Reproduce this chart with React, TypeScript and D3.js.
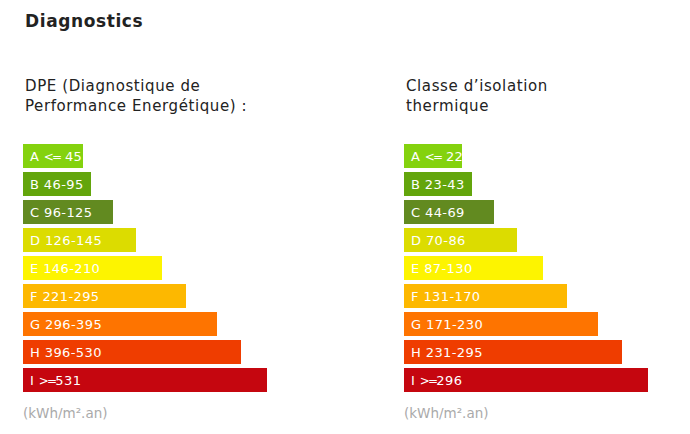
import React from "react";
import * as d3 from "d3";

const classes = ["A", "B", "C", "D", "E", "F", "G", "H", "I"];
const dpeLabels = ["A <= 45", "B 46-95", "C 96-125", "D 126-145", "E 146-210", "F 221-295", "G 296-395", "H 396-530", "I >=531"];
const isoLabels = ["A <= 22", "B 23-43", "C 44-69", "D 70-86", "E 87-130", "F 131-170", "G 171-230", "H 231-295", "I >=296"];
const dpeWidths = [60, 68, 90, 113, 139, 163, 194, 218, 244];
const isoWidths = [58, 68, 90, 113, 139, 163, 194, 218, 244];
const colors = ["#84d20e", "#63a50c", "#628a20", "#dcdc00", "#fdf400", "#fdb800", "#fe7400", "#ef3d00", "#c5060f"];

const FONT = "'DejaVu Sans', sans-serif";

function Label({ text }: { text: string }) {
  const parts = text.split(/(<=|>=)/);
  return (
    <>
      {parts.map((p, i) =>
        p === "<=" || p === ">=" ? (
          <tspan key={i} fontSize={12} letterSpacing={-1.8}>
            {p}
          </tspan>
        ) : (
          <tspan key={i}>{p}</tspan>
        )
      )}
    </>
  );
}

function Panel({ x0, titleLines, labels, widths }: { x0: number; titleLines: string[]; labels: string[]; widths: number[] }) {
  const y = d3.scaleBand<string>().domain(classes).range([144, 392]).paddingInner(1 / 7).paddingOuter(0);
  const xs = d3.scaleLinear().domain([0, 244]).range([0, 244]);
  const bw = y.bandwidth();
  return (
    <g>
      {titleLines.map((t, i) => (
        <text key={i} x={x0 + 2} y={91 + i * 20} fontSize={15} letterSpacing={0.6} fill="#222" fontFamily={FONT}>
          {t}
        </text>
      ))}
      {classes.map((c, i) => {
        const yy = y(c) as number;
        return (
          <g key={c}>
            <rect x={x0} y={yy} width={xs(widths[i])} height={bw} fill={colors[i]} />
            <text x={x0 + 7} y={yy + 17} fontSize={13} letterSpacing={0.4} fill="#fff" fontFamily={FONT}>
              <Label text={labels[i]} />
            </text>
          </g>
        );
      })}
      <text x={x0} y={418} fontSize={13.5} fill="#aaa" fontFamily={FONT}>
        (kWh/m².an)
      </text>
    </g>
  );
}

export default function App() {
  return (
    <svg width={690} height={434} style={{ position: "absolute", left: 0, top: 0, background: "#fff" }}>
      <text x={25} y={27} fontSize={17} fontWeight={700} letterSpacing={0.6} fill="#222" fontFamily={FONT}>
        Diagnostics
      </text>
      <Panel x0={23} titleLines={["DPE (Diagnostique de", "Performance Energétique) :"]} labels={dpeLabels} widths={dpeWidths} />
      <Panel x0={404} titleLines={["Classe d’isolation", "thermique"]} labels={isoLabels} widths={isoWidths} />
    </svg>
  );
}
